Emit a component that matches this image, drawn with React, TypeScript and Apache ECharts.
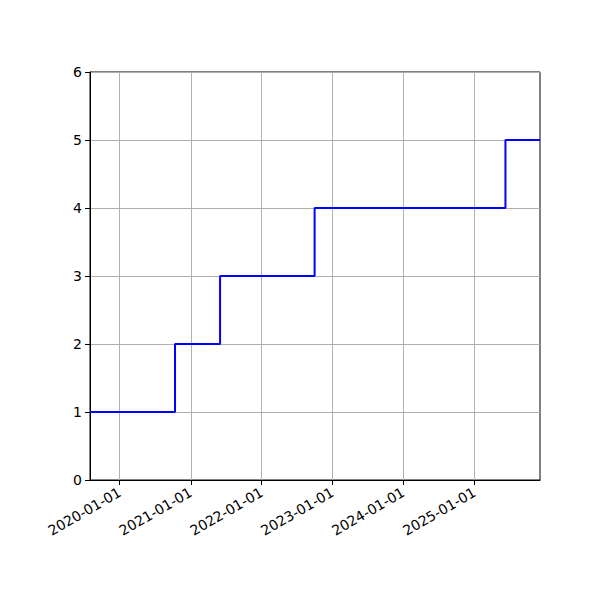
import React, { useEffect, useRef } from 'react';
import * as echarts from 'echarts';

// step dates (value holds until the next date)
const stepDates = ['2019-08-01', '2020-10-12', '2021-06-01', '2022-10-01', '2025-06-10', '2025-12-05'];
const stepValues = [1, 2, 3, 4, 5, 5];
const yearTicks = ['2020-01-01', '2021-01-01', '2022-01-01', '2023-01-01', '2024-01-01', '2025-01-01'];

const toUTC = (s: string) => {
  const [y, m, d] = s.split('-').map(Number);
  return Date.UTC(y, m - 1, d);
};

const pad = (n: number) => (n < 10 ? '0' + n : '' + n);
const fmtDate = (v: number) => {
  const d = new Date(v);
  return `${d.getUTCFullYear()}-${pad(d.getUTCMonth() + 1)}-${pad(d.getUTCDate())}`;
};

const App: React.FC = () => {
  const chartRef = useRef<HTMLDivElement>(null);

  useEffect(() => {
    if (!chartRef.current) return;
    const chart = echarts.init(chartRef.current, undefined, { renderer: 'svg' });

    const tickValues = yearTicks.map(toUTC);
    const font = 'DejaVu Sans';

    const option: echarts.EChartsOption = {
      animation: false,
      backgroundColor: '#ffffff',
      grid: {
        left: 90,
        top: 72,
        width: 450,
        height: 408,
        show: true,
        borderColor: '#000000',
        borderWidth: 1,
        containLabel: false,
      },
      xAxis: {
        type: 'value',
        min: toUTC(stepDates[0]),
        max: toUTC(stepDates[stepDates.length - 1]),
        axisLine: { show: true, lineStyle: { color: '#000000', width: 1 } },
        axisTick: {
          show: true,
          length: 5,
          lineStyle: { color: '#000000' },
          customValues: tickValues,
        },
        axisLabel: {
          customValues: tickValues,
          rotate: 30,
          margin: 11,
          color: '#000000',
          fontSize: 14,
          fontFamily: font,
          formatter: (v: number) => fmtDate(v),
        },
        splitLine: { show: true, lineStyle: { color: '#b0b0b0', width: 1 } },
      },
      yAxis: {
        type: 'value',
        min: 0,
        max: 6,
        interval: 1,
        axisLine: { show: true, lineStyle: { color: '#000000', width: 1 } },
        axisTick: { show: true, length: 5, lineStyle: { color: '#000000' } },
        axisLabel: { color: '#000000', fontSize: 14, fontFamily: font, margin: 8 },
        splitLine: { show: true, lineStyle: { color: '#b0b0b0', width: 1 } },
      },
      series: [
        {
          type: 'line',
          step: 'end',
          showSymbol: false,
          lineStyle: { color: '#0000ff', width: 2 },
          data: stepDates.map((d, i) => [toUTC(d), stepValues[i]]),
        },
      ],
    };

    chart.setOption(option);

    return () => {
      chart.dispose();
    };
  }, []);

  return (
    <div
      ref={chartRef}
      style={{ position: 'fixed', left: 0, top: 0, width: '600px', height: '600px' }}
    />
  );
};

export default App;
